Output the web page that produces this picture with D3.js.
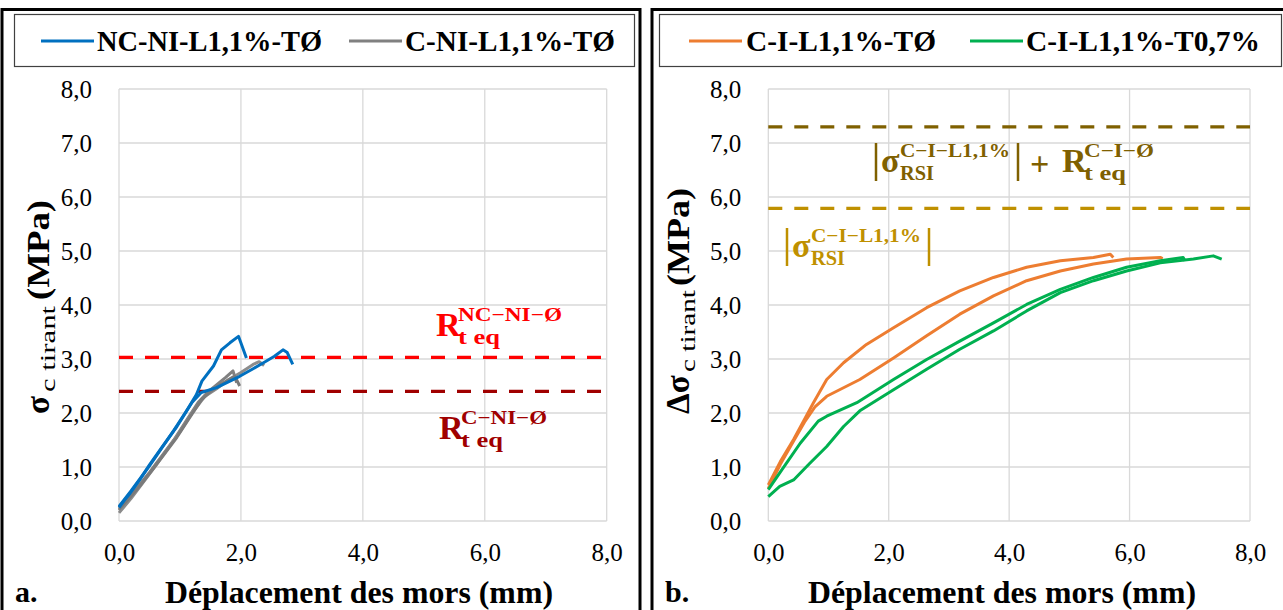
<!DOCTYPE html>
<html><head><meta charset="utf-8">
<script src="https://cdn.jsdelivr.net/npm/d3@7/dist/d3.min.js"></script>
<style>body{margin:0;background:#fff}svg{display:block}</style>
</head><body>
<svg id="c" width="1283" height="610"></svg>
<script>
// ---------- data ----------
const xTicks = [0, 2, 4, 6, 8];
const yTicks = [0, 1, 2, 3, 4, 5, 6, 7, 8];
const leftSeriesNames = ["NC-NI-L1,1%-TØ", "C-NI-L1,1%-TØ"];
const rightSeriesNames = ["C-I-L1,1%-TØ", "C-I-L1,1%-T0,7%"];

const blue1 = [[0,0.25],[0.1,0.4],[0.18,0.51],[0.35,0.78],[0.5,1.04],[0.7,1.36],[0.95,1.75],[1.1,2.02],[1.27,2.34],[1.36,2.59],[1.55,2.87],[1.68,3.17],[1.82,3.30],[1.96,3.42],[2.09,3.02]];
const blue2 = [[0,0.27],[0.2,0.56],[0.5,1.02],[0.9,1.68],[1.2,2.2],[1.35,2.38],[1.6,2.47],[1.98,2.68],[2.2,2.82],[2.37,2.93],[2.55,3.05],[2.69,3.17],[2.76,3.12],[2.85,2.90]];
const gray1 = [[0,0.2],[0.1,0.33],[0.3,0.62],[0.5,0.9],[0.7,1.2],[0.9,1.5],[1.1,1.85],[1.3,2.2],[1.45,2.38],[1.6,2.52],[1.75,2.66],[1.87,2.78],[1.93,2.56]];
const gray2 = [[0,0.15],[0.2,0.42],[0.4,0.72],[0.6,1.02],[0.8,1.34],[1.0,1.65],[1.2,2.0],[1.4,2.3],[1.6,2.45],[1.8,2.62],[2.0,2.75],[2.2,2.9],[2.3,2.95],[2.38,2.88]];
const gray3 = [[0,0.22],[0.15,0.4],[0.35,0.66],[0.55,0.95],[0.75,1.25],[0.95,1.55],[1.15,1.9],[1.35,2.24],[1.5,2.4],[1.7,2.55],[1.9,2.68],[1.98,2.5]];

const orange1 = [[0,0.67],[0.2,1.1],[0.42,1.51],[0.6,1.88],[0.75,2.19],[0.97,2.62],[1.25,2.93],[1.63,3.27],[2.08,3.58],[2.63,3.95],[3.18,4.26],[3.74,4.51],[4.29,4.70],[4.85,4.82],[5.40,4.88],[5.68,4.94],[5.73,4.88]];
const orange2 = [[0,0.6],[0.2,1.05],[0.42,1.48],[0.6,1.83],[0.78,2.12],[0.97,2.31],[1.52,2.62],[2.08,3.02],[2.63,3.43],[3.18,3.83],[3.74,4.17],[4.29,4.45],[4.85,4.63],[5.40,4.76],[5.95,4.85],[6.51,4.88],[6.55,4.86]];
const green1 = [[0,0.58],[0.19,0.89],[0.53,1.44],[0.83,1.85],[0.97,1.94],[1.47,2.19],[2.08,2.62],[2.63,2.99],[3.18,3.33],[3.74,3.67],[4.29,4.01],[4.85,4.29],[5.40,4.51],[5.95,4.70],[6.51,4.82],[6.89,4.88],[6.92,4.82]];
const green2 = [[0,0.45],[0.19,0.64],[0.42,0.76],[0.69,1.07],[0.97,1.38],[1.25,1.75],[1.52,2.04],[2.08,2.43],[2.63,2.81],[3.18,3.18],[3.74,3.52],[4.29,3.89],[4.85,4.23],[5.40,4.45],[5.95,4.63],[6.51,4.78],[7.06,4.85],[7.39,4.91],[7.53,4.85]];

const refLeft = [3.03, 2.40];
const refRight = [7.30, 5.79];

// ---------- drawing ----------
const svg = d3.select("#c");
const SERIF = '"Liberation Serif", "Times New Roman", serif';
const fmt = d => d3.format(".1f")(d).replace(".", ",");
const T = (sel) => sel.style("font-family", SERIF);

function panel(o) {
  const g = svg.append("g");
  g.append("rect").attr("x", o.bx).attr("y", 9.5).attr("width", o.bw).attr("height", 620)
    .attr("fill", "none").attr("stroke", "#000").attr("stroke-width", 3);
  g.append("rect").attr("x", o.lx).attr("y", 14.5).attr("width", o.lw).attr("height", 52)
    .attr("fill", "#fff").attr("stroke", "#404040").attr("stroke-width", 1.2);
  o.legend.forEach(L => {
    g.append("line").attr("x1", L.x1).attr("x2", L.x1 + 53).attr("y1", 41).attr("y2", 41)
      .attr("stroke", L.color).attr("stroke-width", 3);
    T(g.append("text")).attr("x", L.tx).attr("y", 51)
      .attr("font-weight", "bold").attr("font-size", 29).attr("fill", "#000")
      .attr("textLength", L.tw).attr("lengthAdjust", "spacingAndGlyphs").text(L.name);
  });
  const x = d3.scaleLinear().domain([0, 8]).range([o.x0, o.x1]);
  const y = d3.scaleLinear().domain([0, 8]).range([521, 89]);
  g.append("g").selectAll("line").data(xTicks).join("line")
    .attr("x1", d => x(d)).attr("x2", d => x(d)).attr("y1", y(0)).attr("y2", y(8))
    .attr("stroke", "#d9d9d9").attr("stroke-width", 1.3);
  g.append("g").selectAll("line").data(yTicks).join("line")
    .attr("x1", x(0)).attr("x2", x(8)).attr("y1", d => y(d)).attr("y2", d => y(d))
    .attr("stroke", "#d9d9d9").attr("stroke-width", 1.3);
  const ax = g.append("g").attr("transform", `translate(0,${y(0)})`)
    .call(d3.axisBottom(x).tickValues(xTicks).tickFormat(fmt).tickSize(0));
  ax.select(".domain").remove();
  ax.selectAll("text").style("font-family", SERIF).attr("font-size", 25).attr("fill", "#000")
    .attr("y", 40).attr("dy", 0);
  const ay = g.append("g").attr("transform", `translate(${x(0) - 24},0)`)
    .call(d3.axisLeft(y).tickValues(yTicks).tickFormat(fmt).tickSize(0));
  ay.select(".domain").remove();
  ay.selectAll("text").style("font-family", SERIF).attr("font-size", 25).attr("fill", "#000")
    .attr("dy", "0.34em");
  o.refs.forEach((v, i) => {
    g.append("line").attr("x1", x(0)).attr("x2", x(8)).attr("y1", y(v)).attr("y2", y(v))
      .attr("stroke", o.refColors[i]).attr("stroke-width", 3.2).attr("stroke-dasharray", "14,12");
  });
  const line = d3.line().x(d => x(d[0])).y(d => y(d[1]));
  o.series.forEach(s => {
    g.append("path").attr("d", line(s.data)).attr("fill", "none")
      .attr("stroke", s.color).attr("stroke-width", 3).attr("stroke-linejoin", "round");
  });
  T(g.append("text")).attr("x", o.titleX).attr("y", 603).attr("text-anchor", "middle")
    .attr("font-weight", "bold").attr("font-size", 31)
    .attr("textLength", 388).attr("lengthAdjust", "spacingAndGlyphs").text("Déplacement des mors (mm)");
  T(g.append("text")).attr("x", o.bx + 13).attr("y", 602)
    .attr("font-weight", "bold").attr("font-size", 30).text(o.tag);
  // y title (rotated; local x runs upward)
  const yt = T(g.append("text")).attr("transform", `translate(${o.ytx},${o.yty}) rotate(-90)`)
    .attr("font-weight", "bold").attr("fill", "#000");
  yt.append("tspan").attr("x", 0).attr("y", 0).attr("font-size", 33).text(o.ysym);
  yt.append("tspan").attr("x", o.subX).attr("y", 6).attr("font-size", 20).attr("font-weight", "normal")
    .attr("textLength", o.subW).attr("lengthAdjust", "spacingAndGlyphs").text("c tirant");
  yt.append("tspan").attr("x", o.mpaX).attr("y", 0).attr("font-size", 32)
    .attr("textLength", o.mpaW).attr("lengthAdjust", "spacingAndGlyphs").text("(MPa)");
  return {g, x, y};
}

const A = panel({
  bx: 2, bw: 638, lx: 14.5, lw: 620, x0: 119, x1: 606.7, tag: "a.", titleX: 359,
  legend: [{x1: 41, tx: 97, tw: 225, color: "#0070c0", name: leftSeriesNames[0]},
           {x1: 349, tx: 405, tw: 210, color: "#808080", name: leftSeriesNames[1]}],
  refs: refLeft, refColors: ["#ff0000", "#a00000"],
  series: [{data: gray1, color: "#808080"}, {data: gray2, color: "#8c8c8c"}, {data: gray3, color: "#7a7a7a"},
           {data: blue1, color: "#0070c0"}, {data: blue2, color: "#0070c0"}],
  ysym: "σ", ytx: 49, yty: 414, subX: 22, subW: 86, mpaX: 114, mpaW: 100
});
const B = panel({
  bx: 652, bw: 640, lx: 659.5, lw: 622, x0: 768.3, x1: 1250, tag: "b.", titleX: 1002,
  legend: [{x1: 689, tx: 746, tw: 190, color: "#ed7d31", name: rightSeriesNames[0]},
           {x1: 970, tx: 1026, tw: 234, color: "#00b050", name: rightSeriesNames[1]}],
  refs: refRight, refColors: ["#7f6000", "#bf9000"],
  series: [{data: orange1, color: "#ed7d31"}, {data: orange2, color: "#ed7d31"}, {data: green1, color: "#00b050"}, {data: green2, color: "#00b050"}],
  ysym: "Δσ", ytx: 689, yty: 414, subX: 42, subW: 82, mpaX: 128, mpaW: 98
});

function sym(g, color, x, yb, big, sup, sub, supW, subW) {
  const t = T(g.append("text")).attr("font-weight", "bold").attr("fill", color);
  t.append("tspan").attr("x", x).attr("y", yb).attr("font-size", 34).text(big);
  const bw = big === "R" ? 22 : 19;
  t.append("tspan").attr("x", x + bw).attr("y", yb - 15).attr("font-size", 19)
    .attr("textLength", supW).attr("lengthAdjust", "spacingAndGlyphs").text(sup);
  t.append("tspan").attr("x", x + bw).attr("y", yb + 8).attr("font-size", 21)
    .attr("textLength", subW).attr("lengthAdjust", "spacingAndGlyphs").text(sub);
}
function bar(g, color, x, y1, y2) {
  g.append("line").attr("x1", x).attr("x2", x).attr("y1", y1).attr("y2", y2)
    .attr("stroke", color).attr("stroke-width", 2.5);
}
sym(A.g, "#ff0000", 436, 336, "R", "NC−NI−Ø", "t eq", 104, 42);
sym(A.g, "#a00000", 439, 439, "R", "C−NI−Ø", "t eq", 86, 42);

const olive = "#7f6000", gold = "#bf9000";
bar(B.g, olive, 876, 143, 181);
sym(B.g, olive, 881, 172, "σ", "C−I−L1,1%", "RSI", 110, 34);
bar(B.g, olive, 1018, 143, 181);
T(B.g.append("text")).attr("x", 1030).attr("y", 175).attr("font-weight", "bold")
  .attr("font-size", 34).attr("fill", olive).text("+");
sym(B.g, olive, 1062, 172, "R", "C−I−Ø", "t eq", 70, 42);

bar(B.g, gold, 787, 228, 266);
sym(B.g, gold, 792, 257, "σ", "C−I−L1,1%", "RSI", 110, 34);
bar(B.g, gold, 929, 228, 266);
</script>
</body></html>
